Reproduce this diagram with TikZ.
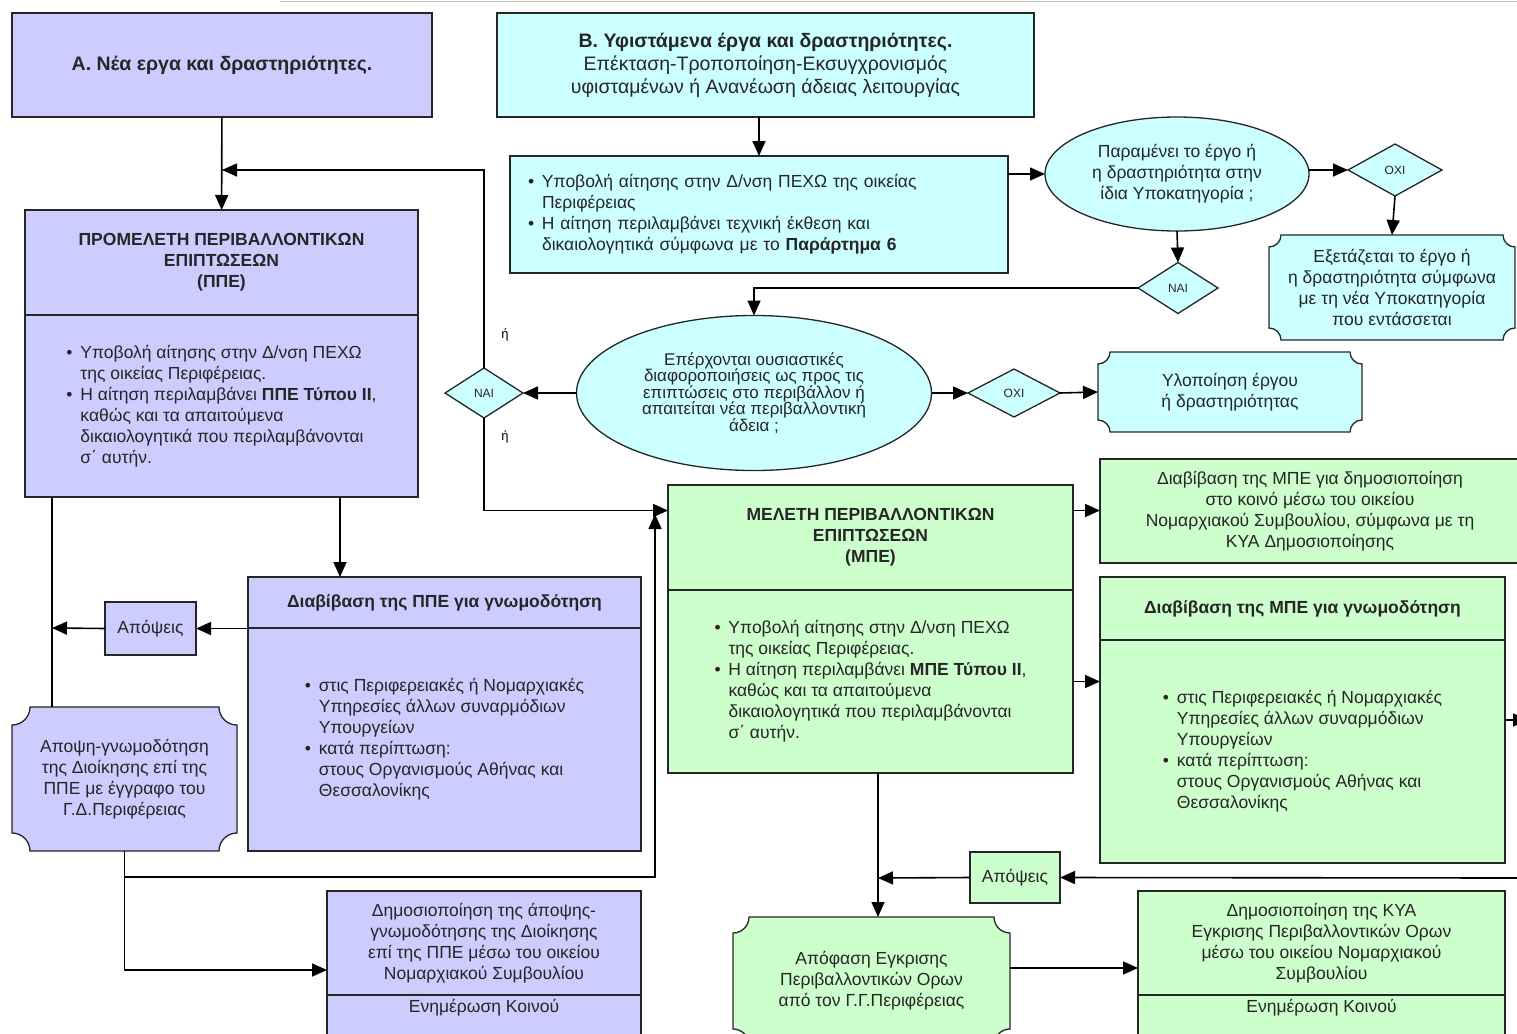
\documentclass[tikz,border=0pt]{standalone}
\usepackage{fontspec}
\setmainfont{Liberation Sans}
\usetikzlibrary{shapes.geometric,arrows.meta,positioning,backgrounds}
\definecolor{lav}{RGB}{204,204,255}
\definecolor{cyn}{RGB}{204,255,255}
\definecolor{grn}{RGB}{204,255,204}
\newcommand{\bu}{\makebox[0.8em][l]{•}}
\newcommand{\nb}{\hspace*{0.8em}}
% outline with hollow corners behind a node: name, fill, corner radius
\newcommand{\plaque}[3]{%
  \begin{pgfonlayer}{background}
    \filldraw[fill=#2, draw=black!85, line width=1.3pt]
      ([xshift=#3]#1.north west) -- ([xshift=-#3]#1.north east)
      arc[start angle=180, end angle=270, radius=#3]
      -- ([yshift=#3]#1.south east)
      arc[start angle=90, end angle=180, radius=#3]
      -- ([xshift=#3]#1.south west)
      arc[start angle=0, end angle=90, radius=#3]
      -- ([yshift=-#3]#1.north west)
      arc[start angle=270, end angle=360, radius=#3] -- cycle;
  \end{pgfonlayer}}
\tikzset{
  box/.style={draw=black!85, line width=1.3pt, outer sep=0pt, inner sep=2pt,
    align=center, text=black!85, font=\fontsize{17.5}{21}\selectfont},
  lbox/.style={box, align=left},
  hbox/.style={box, font=\fontsize{17.5}{21}\selectfont\bfseries},
  plq/.style={outer sep=0pt, inner sep=2pt, align=center, text=black!85,
    font=\fontsize{17.5}{21}\selectfont},
  dec/.style={diamond, draw=black!85, line width=1.3pt, outer sep=0pt,
    inner sep=0pt, fill=cyn, text=black!85, font=\fontsize{12}{14}\selectfont},
  oval/.style={ellipse, draw=black!85, line width=1.3pt, outer sep=0pt,
    inner sep=0pt, fill=cyn, align=center, text=black!85},
  ln/.style={draw=black, line width=1.6pt},
  ar/.style={ln, -{Triangle[length=15pt,width=13pt]}},
}
\begin{document}
\begin{tikzpicture}[x=1pt,y=1pt]
  \useasboundingbox (0,0) rectangle (1517,-1033);
  \draw[gray!50, line width=1pt] (280,-2) -- (1517,-2);

  % A. new projects
  \node[box, fill=lav, minimum width=420pt, minimum height=104pt,
        font=\fontsize{19.5}{23}\selectfont\bfseries] (A) at (222,-65)
        {Α. Νέα εργα και δραστηριότητες.};
  \node[hbox, fill=lav, minimum width=393pt, minimum height=105pt] (PPEh)
        at (221.5,-262.5)
        {ΠΡΟΜΕΛΕΤΗ ΠΕΡΙΒΑΛΛΟΝΤΙΚΩΝ\\ ΕΠΙΠΤΩΣΕΩΝ\\ (ΠΠΕ)};
  \node[lbox, fill=lav, minimum width=393pt, minimum height=182pt,
        below=0pt of PPEh] (PPEb)
        {\bu Υποβολή αίτησης στην Δ/νση ΠΕΧΩ\\
         \nb της οικείας Περιφέρειας.\\
         \bu Η αίτηση περιλαμβάνει \textbf{ΠΠΕ Τύπου ΙΙ},\\
         \nb καθώς και τα απαιτούμενα\\
         \nb δικαιολογητικά που περιλαμβάνονται\\
         \nb σ΄ αυτήν.};
  \node[hbox, fill=lav, minimum width=393pt, minimum height=51pt] (DiabPPEh)
        at (444.5,-602.5) {Διαβίβαση της ΠΠΕ για γνωμοδότηση};
  \node[lbox, fill=lav, minimum width=393pt, minimum height=223pt,
        below=0pt of DiabPPEh] (DiabPPEb)
        {\bu στις Περιφερειακές ή Νομαρχιακές\\
         \nb Υπηρεσίες άλλων συναρμόδιων\\
         \nb Υπουργείων\\
         \bu κατά περίπτωση:\\
         \nb στους Οργανισμούς Αθήνας και\\
         \nb Θεσσαλονίκης};
  \node[box, fill=lav, minimum width=91pt, minimum height=53pt] (Apo1)
        at (150.5,-628.5) {Απόψεις};
  \node[plq, minimum width=225pt, minimum height=144pt] (ApGnom) at (124.5,-779)
        {Αποψη-γνωμοδότηση\\ της Διοίκησης επί της\\ ΠΠΕ με έγγραφο του\\ Γ.Δ.Περιφέρειας};
  \plaque{ApGnom}{lav}{18pt}
  \node[box, fill=lav, minimum width=314pt, minimum height=104pt] (DimPPEh)
        at (484,-943)
        {Δημοσιοποίηση της άποψης-\\ γνωμοδότησης της Διοίκησης\\
         επί της ΠΠΕ μέσω του οικείου\\ Νομαρχιακού Συμβουλίου};
  \node[box, fill=lav, minimum width=314pt, minimum height=50pt,
        text depth=28pt, below=0pt of DimPPEh] (DimPPEb) {Ενημέρωση Κοινού};

  % B. existing projects
  \node[box, fill=cyn, minimum width=537pt, minimum height=104pt,
        font=\fontsize{19.5}{23}\selectfont] (B) at (765.5,-65)
        {\textbf{Β. Υφιστάμενα έργα και δραστηριότητες.}\\
         Επέκταση-Τροποποίηση-Εκσυγχρονισμός\\
         υφισταμένων ή Ανανέωση άδειας λειτουργίας};
  \node[lbox, fill=cyn, minimum width=498pt, minimum height=117pt,
        text width=462pt] (B1) at (759,-214.5)
        {\bu Υποβολή αίτησης στην Δ/νση ΠΕΧΩ της οικείας\\
         \nb Περιφέρειας\\
         \bu Η αίτηση περιλαμβάνει τεχνική έκθεση και\\
         \nb δικαιολογητικά σύμφωνα με το \textbf{Παράρτημα 6}};
  \node[oval, minimum width=264pt, minimum height=114pt,
        font=\fontsize{17.5}{21}\selectfont] (E1) at (1177,-174)
        {Παραμένει το έργο ή\\ η δραστηριότητα στην\\ ίδια Υποκατηγορία ;};
  \node[dec, minimum width=94pt, minimum height=52pt] (OXI1) at (1395,-170) {ΟΧΙ};
  \node[plq, minimum width=246pt, minimum height=105pt] (Exet) at (1392,-287.5)
        {Εξετάζεται το έργο ή\\ η δραστηριότητα σύμφωνα\\ με τη νέα Υποκατηγορία\\ που εντάσσεται};
  \plaque{Exet}{cyn}{12pt}
  \node[dec, minimum width=80pt, minimum height=51pt] (NAI1) at (1178,-288) {ΝΑΙ};
  \node[oval, minimum width=355pt, minimum height=155pt,
        font=\fontsize{17}{16.5}\selectfont] (E2) at (754,-393)
        {Επέρχονται ουσιαστικές\\ διαφοροποιήσεις ως προς τις\\
         επιπτώσεις στο περιβάλλον ή\\ απαιτείται νέα περιβαλλοντική\\ άδεια ;};
  \node[dec, minimum width=78pt, minimum height=50pt] (NAI2) at (484,-393) {ΝΑΙ};
  \node[dec, minimum width=92pt, minimum height=48pt] (OXI2) at (1014,-393) {ΟΧΙ};
  \node[plq, minimum width=264pt, minimum height=80pt] (Ylop) at (1230,-392)
        {Υλοποίηση έργου\\ ή δραστηριότητας};
  \plaque{Ylop}{cyn}{12pt}
  \node[font=\fontsize{13}{15}\selectfont] (or1) at (505,-335) {ή};
  \node[font=\fontsize{13}{15}\selectfont] (or2) at (505,-437) {ή};

  % environmental impact study
  \node[hbox, fill=grn, minimum width=405pt, minimum height=105pt] (MPEh)
        at (870.5,-537.5) {ΜΕΛΕΤΗ ΠΕΡΙΒΑΛΛΟΝΤΙΚΩΝ\\ ΕΠΙΠΤΩΣΕΩΝ\\ (ΜΠΕ)};
  \node[lbox, fill=grn, minimum width=405pt, minimum height=183pt,
        below=0pt of MPEh] (MPEb)
        {\bu Υποβολή αίτησης στην Δ/νση ΠΕΧΩ\\
         \nb της οικείας Περιφέρειας.\\
         \bu Η αίτηση περιλαμβάνει \textbf{ΜΠΕ Τύπου ΙΙ},\\
         \nb καθώς και τα απαιτούμενα\\
         \nb δικαιολογητικά που περιλαμβάνονται\\
         \nb σ΄ αυτήν.};
  \node[box, fill=grn, minimum width=420pt, minimum height=104pt] (DiabPub)
        at (1310,-511)
        {Διαβίβαση της ΜΠΕ για δημοσιοποίηση\\ στο κοινό μέσω του οικείου\\
         Νομαρχιακού Συμβουλίου, σύμφωνα με τη\\ ΚΥΑ Δημοσιοποίησης};
  \node[hbox, fill=grn, minimum width=405pt, minimum height=63pt] (DiabMPEh)
        at (1302.5,-608.5) {Διαβίβαση της ΜΠΕ για γνωμοδότηση};
  \node[lbox, fill=grn, minimum width=405pt, minimum height=223pt,
        below=0pt of DiabMPEh] (DiabMPEb)
        {\bu στις Περιφερειακές ή Νομαρχιακές\\
         \nb Υπηρεσίες άλλων συναρμόδιων\\
         \nb Υπουργείων\\
         \bu κατά περίπτωση:\\
         \nb στους Οργανισμούς Αθήνας και\\
         \nb Θεσσαλονίκης};
  \node[box, fill=grn, minimum width=90pt, minimum height=51pt] (Apo2)
        at (1015,-877.5) {Απόψεις};
  \node[plq, minimum width=277pt, minimum height=128pt] (Apofasi) at (871.5,-981)
        {Απόφαση Εγκρισης\\ Περιβαλλοντικών Ορων\\ από τον Γ.Γ.Περιφέρειας};
  \plaque{Apofasi}{grn}{16pt}
  \node[box, fill=grn, minimum width=367pt, minimum height=104pt] (DimKYAh)
        at (1321.5,-943)
        {Δημοσιοποίηση της ΚΥΑ\\ Εγκρισης Περιβαλλοντικών Ορων\\
         μέσω του οικείου Νομαρχιακού\\ Συμβουλίου};
  \node[box, fill=grn, minimum width=367pt, minimum height=50pt,
        text depth=28pt, below=0pt of DimKYAh] (DimKYAb) {Ενημέρωση Κοινού};

  % junctions
  \coordinate (jA) at (222,-170);
  \coordinate (dIn) at (340,-577);
  \coordinate (jL) at (52,-628);
  \coordinate (gB) at (124.5,-877);
  \coordinate (gT) at (655,-514);
  \coordinate (jP) at (878,-878);
  \coordinate (rIn) at (1517,-878);
  \coordinate (rOut) at (1528,-720);

  % connectors, left side
  \draw[ar] (A) -- (PPEh);
  \draw[ar] (NAI2.north) |- (jA);
  \draw[ar] (PPEb.south -| dIn) -- (dIn);
  \draw[ar] (Apo1.east -| DiabPPEh.west) -- (Apo1.east);
  \draw[ar] (Apo1.west) -- (jL);
  \draw[ln] (PPEb.south -| jL) -- (ApGnom.north -| jL);
  \draw[ar] (ApGnom.south) |- ([yshift=-27pt]DimPPEh.west);
  \draw[ar] (gB) -| (gT);
  \draw[ar] (NAI2.south) |- ([yshift=27pt]MPEh.west);

  % connectors, right side
  \draw[ar] (B.south -| B1.north) -- (B1.north);
  \draw[ar] (B1.east |- E1.west) -- (E1.west);
  \draw[ar] (E1.east |- OXI1.west) -- (OXI1.west);
  \draw[ar] (OXI1.south) -- (Exet.north);
  \draw[ar] (E1.south) -- (NAI1.north);
  \draw[ar] (NAI1.west) -| (E2.north);
  \draw[ar] (E2.west) -- (NAI2.east);
  \draw[ar] (E2.east) -- (OXI2.west);
  \draw[ar] (OXI2.east) -- (Ylop.west);
  \draw[ar] ([yshift=27pt]MPEh.east) -- ([yshift=27pt]MPEh.east -| DiabPub.west);
  \draw[ar] (MPEb.east) -- (MPEb.east -| DiabMPEb.west);
  \draw[ar] (DiabMPEb.east |- rOut) -- (rOut);
  \draw[ar] (rIn) -- (Apo2.east);
  \draw[ar] (Apo2.west) -- (jP);
  \draw[ar] (MPEb.south -| jP) -- (Apofasi.north -| jP);
  \draw[ar] ([yshift=13pt]Apofasi.east) -- ([yshift=13pt]Apofasi.east -| DimKYAh.west);
\end{tikzpicture}
\end{document}
